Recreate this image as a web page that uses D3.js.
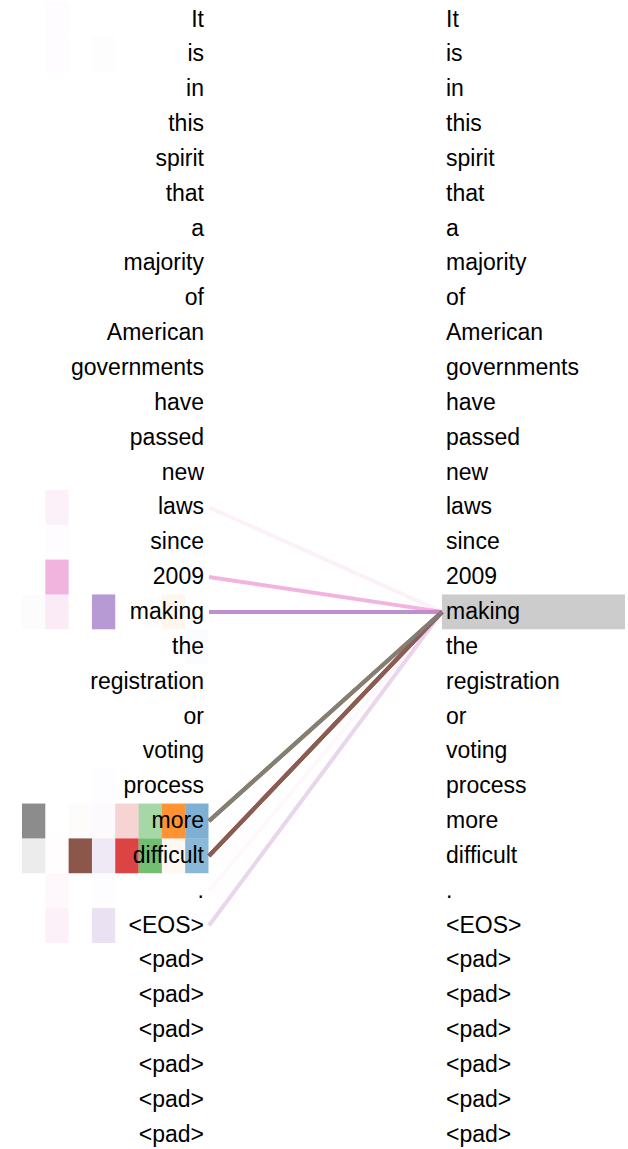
<!DOCTYPE html>
<html>
<head>
<meta charset="utf-8">
<script src="https://cdn.jsdelivr.net/npm/d3@7"></script>
<style>
  html, body { margin: 0; padding: 0; background: #ffffff; overflow: hidden; }
  svg { display: block; }
  text { font-family: "Liberation Sans", Arial, Helvetica, sans-serif; }
</style>
</head>
<body>
<svg id="chart" width="628" height="1149"></svg>
<script>
// ---- data ----
const tokens = ["It","is","in","this","spirit","that","a","majority","of","American",
  "governments","have","passed","new","laws","since","2009","making","the","registration",
  "or","voting","process","more","difficult",".","<EOS>","<pad>","<pad>","<pad>","<pad>","<pad>","<pad>"];

const selectedToken = 17; // "making"

const headColors = ["#1f77b4","#ff7f0e","#2ca02c","#d62728","#9467bd","#8c564b","#e377c2","#7f7f7f"];

// attention weights (from selected token) per head, indexed by token position
function sparse(entries) {
  const a = new Array(tokens.length).fill(0);
  for (const [i, v] of entries) a[i] = v;
  return a;
}
const head0 = sparse([[18, 0.02], [23, 0.58], [24, 0.52]]);
const head1 = sparse([[17, 0.07], [23, 0.85], [24, 0.06]]);
const head2 = sparse([[17, 0.01], [23, 0.42], [24, 0.67]]);
const head3 = sparse([[23, 0.2], [24, 0.87]]);
const head4 = sparse([[1, 0.015], [22, 0.02], [17, 0.67], [23, 0.03], [24, 0.15], [25, 0.02], [26, 0.2]]);
const head5 = sparse([[23, 0.02], [24, 1.0]]);
const head6 = sparse([[0, 0.02], [1, 0.02], [14, 0.1], [15, 0.02], [16, 0.55], [17, 0.15], [24, 0.01], [25, 0.05], [26, 0.1]]);
const head7 = sparse([[17, 0.02], [23, 0.9], [24, 0.15]]);
const heads = [head0, head1, head2, head3, head4, head5, head6, head7];

const lineThreshold = 0.04;

// ---- layout ----
const svg = d3.select("#chart");
const rowH = 34.85, rowTop = 2;
const y = d3.scaleBand().domain(d3.range(tokens.length)).range([rowTop, rowTop + rowH * tokens.length]).padding(0);
// heads laid out right-to-left: head 0 nearest the text
const xHead = d3.scaleBand().domain(d3.range(heads.length).reverse()).range([22, 208.5]).padding(0);
const op = d3.scaleLinear().domain([0, 1]).range([0, 1]).clamp(true);

const leftTextX = 204, rightTextX = 446;
const lineX1 = 209, lineX2 = 442;
const fontSize = 23;
const baseOff = 24.5;

// head boxes (left)
const boxG = svg.append("g");
heads.forEach((h, hi) => {
  boxG.selectAll(null)
    .data(h.map((v, i) => ({ v, i })).filter(d => d.v > 0))
    .join("rect")
    .attr("x", xHead(hi))
    .attr("y", d => y(d.i))
    .attr("width", xHead.bandwidth())
    .attr("height", y.bandwidth())
    .attr("fill", headColors[hi])
    .attr("fill-opacity", d => op(d.v));
});

// right highlight box
svg.append("rect")
  .attr("x", lineX2)
  .attr("y", y(selectedToken))
  .attr("width", 183)
  .attr("height", y.bandwidth())
  .attr("fill", "#cccccc");

// lines
const lineG = svg.append("g");
heads.forEach((h, hi) => {
  lineG.selectAll(null)
    .data(h.map((v, i) => ({ v, i })).filter(d => d.v >= lineThreshold))
    .join("line")
    .attr("x1", lineX1)
    .attr("y1", d => y(d.i) + y.bandwidth() / 2)
    .attr("x2", lineX2)
    .attr("y2", y(selectedToken) + y.bandwidth() / 2)
    .attr("stroke", headColors[hi])
    .attr("stroke-width", 4)
    .attr("stroke-opacity", d => op(d.v));
});

// texts
svg.append("g").selectAll("text")
  .data(tokens)
  .join("text")
  .attr("x", leftTextX)
  .attr("y", (d, i) => y(i) + baseOff)
  .attr("text-anchor", "end")
  .attr("font-size", fontSize)
  .attr("fill", "#000")
  .text(d => d);

svg.append("g").selectAll("text")
  .data(tokens)
  .join("text")
  .attr("x", rightTextX)
  .attr("y", (d, i) => y(i) + baseOff)
  .attr("text-anchor", "start")
  .attr("font-size", fontSize)
  .attr("fill", "#000")
  .text(d => d);
</script>
</body>
</html>
